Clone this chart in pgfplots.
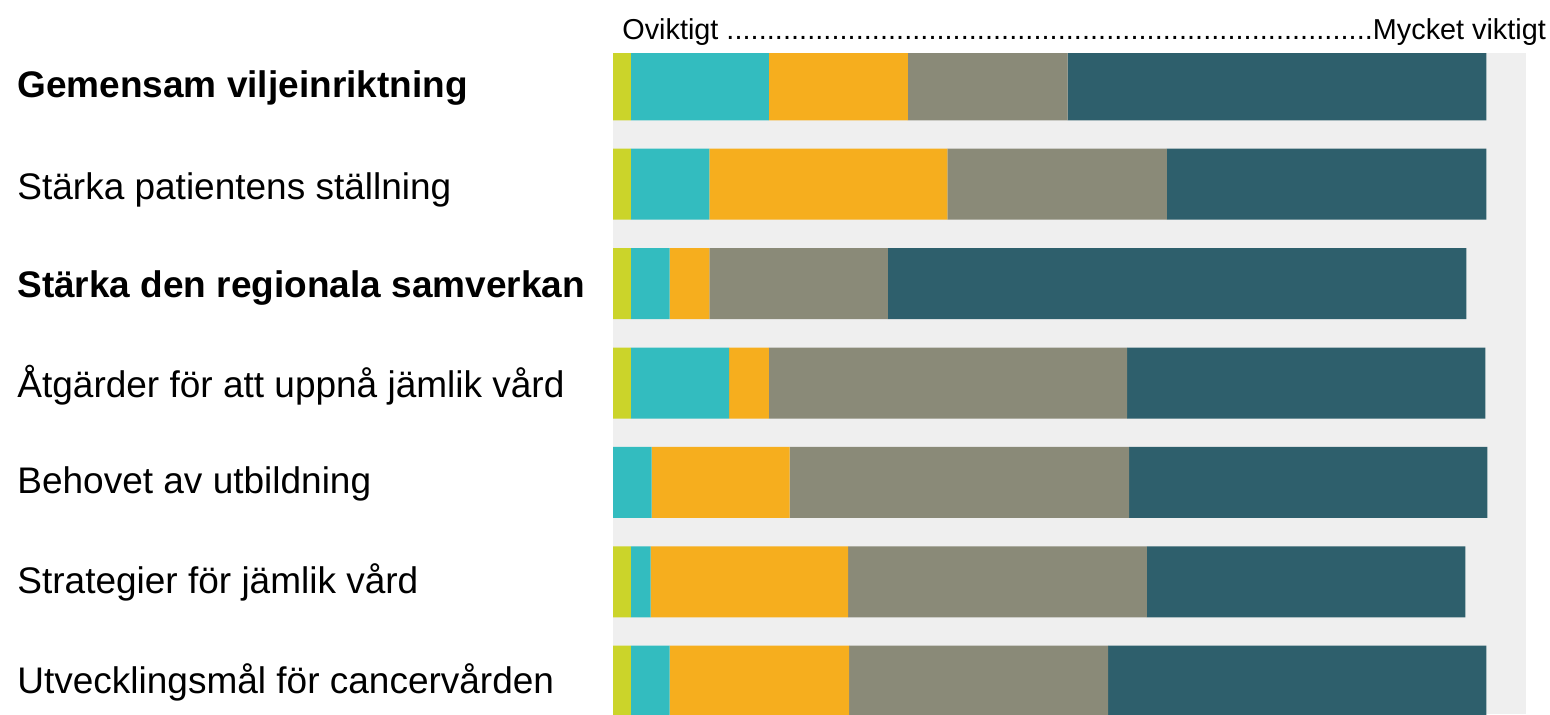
\documentclass[border=0pt]{standalone}
\usepackage{fontspec}
\setmainfont{Liberation Sans}
\usepackage{pgfplots}
\pgfplotsset{compat=1.18}
\definecolor{cA}{HTML}{CBD42A}
\definecolor{cB}{HTML}{33BCBF}
\definecolor{cC}{HTML}{F6AE1E}
\definecolor{cD}{HTML}{8A8A78}
\definecolor{cE}{HTML}{2E5F6C}
\definecolor{bgc}{HTML}{EFEFEF}
\begin{document}
\begin{tikzpicture}
\path[use as bounding box] (0,0) rectangle (775pt,357pt);
\begin{axis}[
  at={(306.5pt,0pt)}, anchor=south west,
  scale only axis, width=456.5pt, height=330.5pt,
  xmin=0, xmax=46, ymin=-0.32, ymax=6.33, y dir=reverse,
  xbar stacked, bar width=35.5pt,
  axis background/.style={fill=bgc},
  axis line style={draw=none}, xtick=\empty, ytick=\empty,
  every axis plot/.append style={draw=none},
]
\addplot[fill=cA] coordinates {(0.9,0) (0.9,1) (0.9,2) (0.9,3) (0,4) (0.9,5) (0.9,6)};
\addplot[fill=cB] coordinates {(6.95,0) (3.95,1) (1.95,2) (4.95,3) (1.95,4) (1.0,5) (1.95,6)};
\addplot[fill=cC] coordinates {(7,0) (12,1) (2,2) (2,3) (6.95,4) (9.95,5) (9.05,6)};
\addplot[fill=cD] coordinates {(8.05,0) (11.05,1) (9.0,2) (18.05,3) (17.1,4) (15.05,5) (13.05,6)};
\addplot[fill=cE] coordinates {(21.1,0) (16.1,1) (29.15,2) (18.05,3) (18.05,4) (16.05,5) (19.05,6)};
\end{axis}
\node[anchor=base west, inner sep=0, font=\fontsize{14.4}{17}\selectfont] at (311pt,337pt)
  {\makebox[461.5pt][l]{Oviktigt \xleaders\hbox{.}\hfill Mycket viktigt}};
\begin{scope}[every node/.style={anchor=base west, inner sep=0, font=\fontsize{18.5}{22}\selectfont}]
\node at (8.5pt,308.5pt) {\textbf{Gemensam viljeinriktning}};
\node at (8.5pt,257.5pt) {Stärka patientens ställning};
\node at (8.5pt,208.5pt) {\textbf{Stärka den regionala samverkan}};
\node at (8.5pt,158.5pt) {Åtgärder för att uppnå jämlik vård};
\node at (8.5pt,110.5pt) {Behovet av utbildning};
\node at (8.5pt,60.5pt) {Strategier för jämlik vård};
\node at (8.5pt,10.5pt) {Utvecklingsmål för cancervården};
\end{scope}
\end{tikzpicture}
\end{document}
